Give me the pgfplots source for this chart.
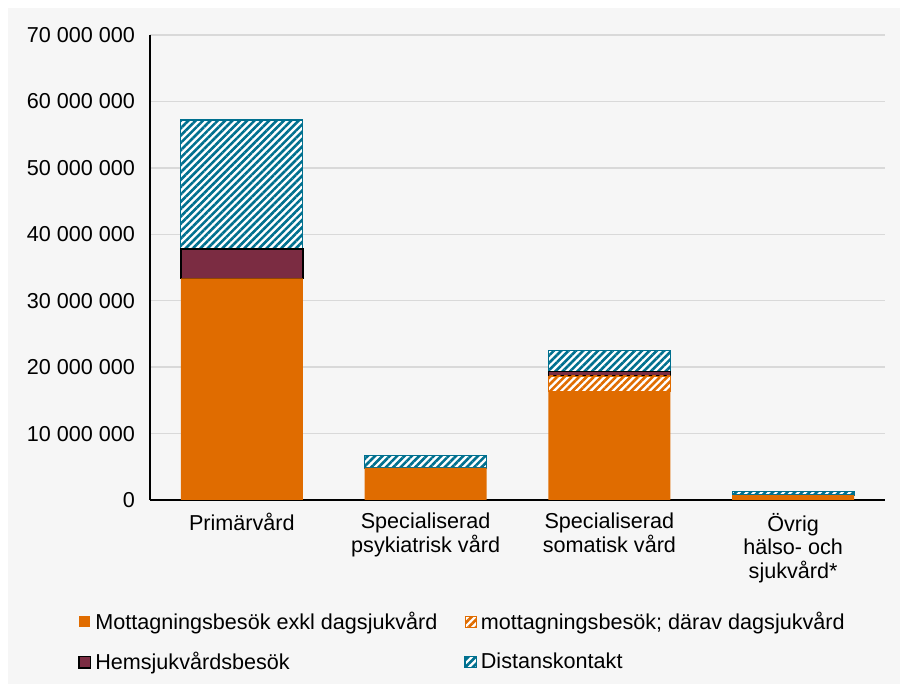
\documentclass[border=0pt]{standalone}
\usepackage{pgfplots}
\pgfplotsset{compat=1.18}
\usepackage{fontspec}
\setmainfont{Liberation Sans}
\usetikzlibrary{patterns.meta}

\definecolor{orng}{HTML}{E06C00}
\definecolor{maroon}{HTML}{7B2C42}
\definecolor{blu}{HTML}{00708F}
\definecolor{bgc}{HTML}{F6F6F6}
\definecolor{gridc}{HTML}{D9D9D9}

\begin{document}
\begin{tikzpicture}[x=1pt,y=1pt]
  \fill[white] (0,0) rectangle (450,342);
  \fill[bgc] (4,0) rectangle (450,338);
  \begin{axis}[
    at={(75pt,92pt)}, anchor=south west,
    scale only axis,
    width=367.5pt, height=232.5pt,
    ybar stacked, bar width=61pt,
    xmin=-0.5, xmax=3.5,
    ymin=0, ymax=70000000,
    xtick=data,
    xticklabels={Primärvård, Specialiserad\\psykiatrisk vård, Specialiserad\\somatisk vård, Övrig\\hälso- och\\sjukvård*},
    xticklabel style={align=center, font=\fontsize{10.8}{11.8}\selectfont, yshift=-3pt},
    ytick={0,10000000,...,70000000},
    scaled y ticks=false,
    yticklabel style={font=\fontsize{10.8}{12}\selectfont, xshift=-4pt, /pgf/number format/.cd, fixed, precision=0, 1000 sep={\ }, assume math mode=true},
    xmajorgrids=false, ymajorgrids=true,
    major grid style={draw=gridc, line width=0.7pt},
    axis x line*=bottom, axis y line*=left,
    x axis line style={black, line width=0.7pt},
    y axis line style={black, line width=0.5pt},
    major tick length=0pt,
    axis background/.style={fill=bgc},
    legend columns=2,
    legend cell align=left,
    legend style={at={(-0.106,-0.222)}, anchor=north west, draw=none, fill=none,
      font=\fontsize{10.8}{12}\selectfont, row sep=6pt,
      /tikz/every even column/.style={column sep=11.5pt}},
    legend image code/.code={\path[#1] (0pt,-2.8pt) rectangle (5.6pt,2.8pt);},
  ]
    \addplot[fill=orng, draw=none] coordinates {(0,33370000) (1,4820000) (2,16300000) (3,750000)};
    \addlegendentry{Mottagningsbesök exkl dagsjukvård}
    \addplot[fill=white, draw=orng, line width=0.4pt,
      postaction={pattern={Lines[angle=45,distance=2.6pt,line width=1.3pt]}, pattern color=orng}]
      coordinates {(0,0) (1,0) (2,2370000) (3,0)};
    \addlegendentry{mottagningsbesök; därav dagsjukvård}
    \addplot[fill=maroon, draw=black, line width=0.8pt] coordinates {(0,4370000) (1,0) (2,650000) (3,0)};
    \addlegendentry{Hemsjukvårdsbesök}
    \addplot[fill=white, draw=blu, line width=0.6pt,
      postaction={pattern={Lines[angle=45,distance=2.6pt,line width=1.3pt]}, pattern color=blu}]
      coordinates {(0,19460000) (1,1910000) (2,3150000) (3,500000)};
    \addlegendentry{Distanskontakt}
  \end{axis}
  \pgfresetboundingbox
  \useasboundingbox (0,0) rectangle (450,342);
\end{tikzpicture}
\end{document}
